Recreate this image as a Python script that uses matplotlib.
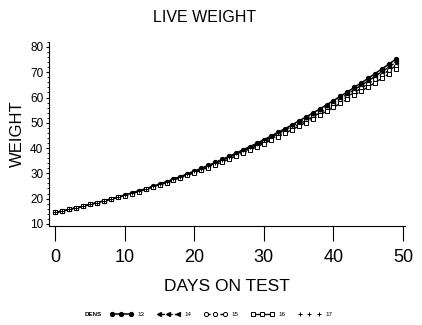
import matplotlib
matplotlib.use("Agg")
import matplotlib.pyplot as plt
from matplotlib.ticker import MultipleLocator

plt.rcParams['font.family'] = ['Liberation Sans', 'DejaVu Sans']

days = list(range(50))

# live weight by density group
dens_13 = [14.5, 15.1, 15.7, 16.4, 17.0, 17.7, 18.4, 19.1, 19.9, 20.6,
           21.4, 22.2, 23.1, 23.9, 24.8, 25.8, 26.7, 27.7, 28.7, 29.8,
           30.9, 32.0, 33.1, 34.3, 35.5, 36.7, 38.0, 39.3, 40.6, 41.9,
           43.3, 44.7, 46.2, 47.6, 49.1, 50.7, 52.2, 53.8, 55.4, 57.1,
           58.8, 60.5, 62.2, 64.0, 65.8, 67.6, 69.5, 71.4, 73.3, 75.2]
dens_14 = [14.5, 15.1, 15.7, 16.4, 17.0, 17.7, 18.4, 19.1, 19.8, 20.6,
           21.3, 22.2, 23.0, 23.8, 24.7, 25.6, 26.6, 27.6, 28.6, 29.6,
           30.7, 31.8, 32.9, 34.0, 35.2, 36.4, 37.6, 38.9, 40.2, 41.5,
           42.9, 44.2, 45.6, 47.1, 48.6, 50.0, 51.6, 53.1, 54.7, 56.3,
           58.0, 59.6, 61.3, 63.1, 64.8, 66.6, 68.4, 70.3, 72.1, 74.0]
dens_15 = [14.5, 15.1, 15.7, 16.3, 17.0, 17.7, 18.4, 19.1, 19.8, 20.5,
           21.3, 22.1, 22.9, 23.7, 24.6, 25.5, 26.4, 27.4, 28.4, 29.4,
           30.4, 31.5, 32.6, 33.7, 34.9, 36.0, 37.2, 38.5, 39.7, 41.0,
           42.3, 43.7, 45.0, 46.5, 47.9, 49.3, 50.8, 52.3, 53.9, 55.4,
           57.0, 58.6, 60.3, 62.0, 63.7, 65.4, 67.2, 69.0, 70.8, 72.6]
dens_16 = [14.5, 15.1, 15.7, 16.3, 17.0, 17.7, 18.3, 19.0, 19.8, 20.5,
           21.2, 22.0, 22.8, 23.6, 24.5, 25.4, 26.3, 27.2, 28.2, 29.2,
           30.2, 31.2, 32.3, 33.4, 34.5, 35.7, 36.8, 38.0, 39.3, 40.5,
           41.8, 43.1, 44.4, 45.8, 47.2, 48.6, 50.1, 51.5, 53.0, 54.6,
           56.1, 57.7, 59.3, 60.9, 62.6, 64.2, 65.9, 67.7, 69.4, 71.2]
dens_17 = [14.5, 15.1, 15.7, 16.4, 17.0, 17.7, 18.4, 19.1, 19.8, 20.6,
           21.4, 22.2, 23.0, 23.9, 24.8, 25.7, 26.7, 27.7, 28.7, 29.7,
           30.8, 31.9, 33.0, 34.2, 35.4, 36.6, 37.9, 39.1, 40.4, 41.8,
           43.2, 44.6, 46.0, 47.4, 48.9, 50.5, 52.0, 53.6, 55.2, 56.8,
           58.5, 60.2, 61.9, 63.7, 65.5, 67.3, 69.1, 71.0, 72.9, 74.8]

fig = plt.figure(figsize=(4.22, 3.25), dpi=100)
ax = fig.add_axes([0.116, 0.305, 0.844, 0.566])

ax.plot(days, dens_13, color='black', lw=1.1, marker='o', ms=2.8,
        mfc='black', mec='black', label='13')
ax.plot(days, dens_14, color='black', lw=1.0, ls=(0, (4, 1.5)), marker='<',
        ms=2.8, mfc='black', mec='black', label='14')
ax.plot(days, dens_15, color='black', lw=1.0, ls=(0, (3, 2)), marker='o',
        ms=3.0, mfc='white', mec='black', mew=0.7, label='15')
ax.plot(days, dens_16, color='black', lw=1.0, ls=(0, (5, 2)), marker='s',
        ms=3.0, mfc='white', mec='black', mew=0.7, label='16')
ax.plot(days, dens_17, color='black', lw=0, marker='+', ms=3.2,
        mew=0.7, label='17')

ax.set_xlim(-0.9, 50.3)
ax.set_ylim(9.2, 82)
ax.set_xticks([0, 10, 20, 30, 40, 50])
ax.set_yticks(range(10, 81, 10))
ax.yaxis.set_minor_locator(MultipleLocator(2))

ax.spines['top'].set_visible(False)
ax.spines['right'].set_visible(False)
ax.spines['left'].set_linewidth(0.8)
ax.spines['bottom'].set_linewidth(0.8)

ax.tick_params(axis='x', direction='out', length=11, width=0.8,
               labelsize=13, pad=6)
ax.tick_params(axis='y', which='major', direction='out', length=2,
               width=0.8, labelsize=8.5, pad=2)
ax.tick_params(axis='y', which='minor', direction='out', length=1.2,
               width=0.6)

ax.set_xlabel('DAYS ON TEST', fontsize=12.5, labelpad=9)
ax.set_ylabel('WEIGHT', fontsize=12, labelpad=4)

fig.text(205 / 422, 1 - 17 / 325, 'LIVE WEIGHT', fontsize=11.5,
         ha='center', va='center')

fig.text(85 / 422, 1 - 314 / 325, 'DENS', fontsize=4.5,
         ha='left', va='center', weight='bold')
fig.legend(loc='center left', bbox_to_anchor=(110 / 422, 1 - 314 / 325),
           ncol=5, frameon=False, fontsize=4.5, numpoints=3,
           handlelength=3.6, columnspacing=2.0, handletextpad=0.8,
           borderpad=0, borderaxespad=0)

fig.savefig('out.png', dpi=100)
